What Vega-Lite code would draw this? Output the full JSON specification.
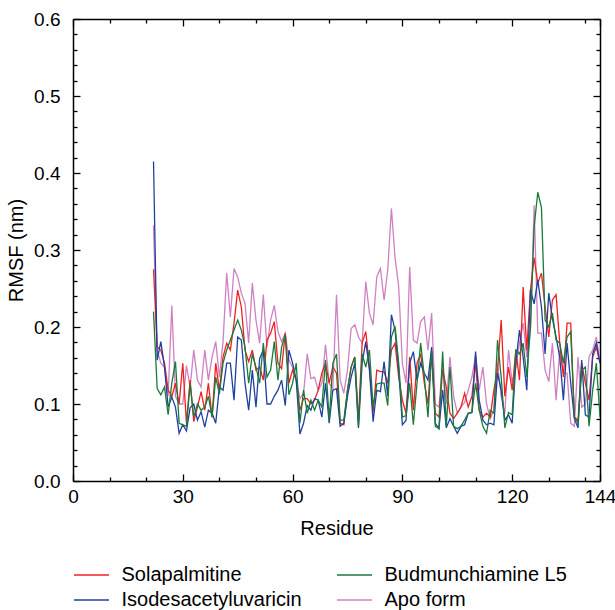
{
"$schema":"https://vega.github.io/schema/vega-lite/v6.json",
"width":527,"height":462,
"autosize":{"type":"none"},
"padding":{"left":73,"top":19,"right":15,"bottom":129},
"config":{"view":{"stroke":null}},
"data":{"values":[
{"r":22,"Solapalmitine":0.275,"Isodesacetyluvaricin":0.415,"Budmunchiamine L5":0.22,"Apo form":0.332},
{"r":23,"Solapalmitine":0.174,"Isodesacetyluvaricin":0.157,"Budmunchiamine L5":0.12,"Apo form":0.17},
{"r":24,"Solapalmitine":0.17,"Isodesacetyluvaricin":0.181,"Budmunchiamine L5":0.112,"Apo form":0.153},
{"r":25,"Solapalmitine":0.153,"Isodesacetyluvaricin":0.148,"Budmunchiamine L5":0.122,"Apo form":0.148},
{"r":26,"Solapalmitine":0.118,"Isodesacetyluvaricin":0.096,"Budmunchiamine L5":0.086,"Apo form":0.11},
{"r":27,"Solapalmitine":0.11,"Isodesacetyluvaricin":0.109,"Budmunchiamine L5":0.127,"Apo form":0.228},
{"r":28,"Solapalmitine":0.127,"Isodesacetyluvaricin":0.096,"Budmunchiamine L5":0.155,"Apo form":0.11},
{"r":29,"Solapalmitine":0.1,"Isodesacetyluvaricin":0.062,"Budmunchiamine L5":0.075,"Apo form":0.1},
{"r":30,"Solapalmitine":0.153,"Isodesacetyluvaricin":0.073,"Budmunchiamine L5":0.073,"Apo form":0.1},
{"r":31,"Solapalmitine":0.075,"Isodesacetyluvaricin":0.065,"Budmunchiamine L5":0.071,"Apo form":0.15},
{"r":32,"Solapalmitine":0.131,"Isodesacetyluvaricin":0.095,"Budmunchiamine L5":0.126,"Apo form":0.122},
{"r":33,"Solapalmitine":0.077,"Isodesacetyluvaricin":0.1,"Budmunchiamine L5":0.083,"Apo form":0.17},
{"r":34,"Solapalmitine":0.096,"Isodesacetyluvaricin":0.079,"Budmunchiamine L5":0.1,"Apo form":0.131},
{"r":35,"Solapalmitine":0.116,"Isodesacetyluvaricin":0.09,"Budmunchiamine L5":0.092,"Apo form":0.122},
{"r":36,"Solapalmitine":0.092,"Isodesacetyluvaricin":0.07,"Budmunchiamine L5":0.096,"Apo form":0.17},
{"r":37,"Solapalmitine":0.127,"Isodesacetyluvaricin":0.092,"Budmunchiamine L5":0.11,"Apo form":0.131},
{"r":38,"Solapalmitine":0.083,"Isodesacetyluvaricin":0.088,"Budmunchiamine L5":0.083,"Apo form":0.161},
{"r":39,"Solapalmitine":0.153,"Isodesacetyluvaricin":0.075,"Budmunchiamine L5":0.135,"Apo form":0.181},
{"r":40,"Solapalmitine":0.118,"Isodesacetyluvaricin":0.122,"Budmunchiamine L5":0.113,"Apo form":0.135},
{"r":41,"Solapalmitine":0.161,"Isodesacetyluvaricin":0.118,"Budmunchiamine L5":0.153,"Apo form":0.181},
{"r":42,"Solapalmitine":0.179,"Isodesacetyluvaricin":0.153,"Budmunchiamine L5":0.17,"Apo form":0.27},
{"r":43,"Solapalmitine":0.17,"Isodesacetyluvaricin":0.153,"Budmunchiamine L5":0.183,"Apo form":0.213},
{"r":44,"Solapalmitine":0.205,"Isodesacetyluvaricin":0.105,"Budmunchiamine L5":0.196,"Apo form":0.276},
{"r":45,"Solapalmitine":0.248,"Isodesacetyluvaricin":0.187,"Budmunchiamine L5":0.209,"Apo form":0.265},
{"r":46,"Solapalmitine":0.226,"Isodesacetyluvaricin":0.183,"Budmunchiamine L5":0.196,"Apo form":0.244},
{"r":47,"Solapalmitine":0.17,"Isodesacetyluvaricin":0.127,"Budmunchiamine L5":0.174,"Apo form":0.231},
{"r":48,"Solapalmitine":0.155,"Isodesacetyluvaricin":0.092,"Budmunchiamine L5":0.127,"Apo form":0.179},
{"r":49,"Solapalmitine":0.17,"Isodesacetyluvaricin":0.144,"Budmunchiamine L5":0.165,"Apo form":0.257},
{"r":50,"Solapalmitine":0.144,"Isodesacetyluvaricin":0.096,"Budmunchiamine L5":0.148,"Apo form":0.209},
{"r":51,"Solapalmitine":0.148,"Isodesacetyluvaricin":0.159,"Budmunchiamine L5":0.127,"Apo form":0.179},
{"r":52,"Solapalmitine":0.131,"Isodesacetyluvaricin":0.17,"Budmunchiamine L5":0.179,"Apo form":0.242},
{"r":53,"Solapalmitine":0.183,"Isodesacetyluvaricin":0.1,"Budmunchiamine L5":0.135,"Apo form":0.174},
{"r":54,"Solapalmitine":0.192,"Isodesacetyluvaricin":0.1,"Budmunchiamine L5":0.144,"Apo form":0.209},
{"r":55,"Solapalmitine":0.207,"Isodesacetyluvaricin":0.11,"Budmunchiamine L5":0.181,"Apo form":0.228},
{"r":56,"Solapalmitine":0.153,"Isodesacetyluvaricin":0.118,"Budmunchiamine L5":0.131,"Apo form":0.194},
{"r":57,"Solapalmitine":0.146,"Isodesacetyluvaricin":0.131,"Budmunchiamine L5":0.174,"Apo form":0.181},
{"r":58,"Solapalmitine":0.192,"Isodesacetyluvaricin":0.098,"Budmunchiamine L5":0.19,"Apo form":0.192},
{"r":59,"Solapalmitine":0.127,"Isodesacetyluvaricin":0.17,"Budmunchiamine L5":0.112,"Apo form":0.157},
{"r":60,"Solapalmitine":0.144,"Isodesacetyluvaricin":0.153,"Budmunchiamine L5":0.127,"Apo form":0.148},
{"r":61,"Solapalmitine":0.131,"Isodesacetyluvaricin":0.131,"Budmunchiamine L5":0.153,"Apo form":0.131},
{"r":62,"Solapalmitine":0.092,"Isodesacetyluvaricin":0.061,"Budmunchiamine L5":0.075,"Apo form":0.107},
{"r":63,"Solapalmitine":0.107,"Isodesacetyluvaricin":0.075,"Budmunchiamine L5":0.118,"Apo form":0.114},
{"r":64,"Solapalmitine":0.107,"Isodesacetyluvaricin":0.098,"Budmunchiamine L5":0.088,"Apo form":0.165},
{"r":65,"Solapalmitine":0.1,"Isodesacetyluvaricin":0.092,"Budmunchiamine L5":0.105,"Apo form":0.133},
{"r":66,"Solapalmitine":0.105,"Isodesacetyluvaricin":0.107,"Budmunchiamine L5":0.092,"Apo form":0.135},
{"r":67,"Solapalmitine":0.118,"Isodesacetyluvaricin":0.105,"Budmunchiamine L5":0.105,"Apo form":0.118},
{"r":68,"Solapalmitine":0.14,"Isodesacetyluvaricin":0.083,"Budmunchiamine L5":0.096,"Apo form":0.127},
{"r":69,"Solapalmitine":0.153,"Isodesacetyluvaricin":0.127,"Budmunchiamine L5":0.157,"Apo form":0.177},
{"r":70,"Solapalmitine":0.127,"Isodesacetyluvaricin":0.075,"Budmunchiamine L5":0.079,"Apo form":0.127},
{"r":71,"Solapalmitine":0.148,"Isodesacetyluvaricin":0.118,"Budmunchiamine L5":0.153,"Apo form":0.12},
{"r":72,"Solapalmitine":0.14,"Isodesacetyluvaricin":0.12,"Budmunchiamine L5":0.165,"Apo form":0.242},
{"r":73,"Solapalmitine":0.075,"Isodesacetyluvaricin":0.071,"Budmunchiamine L5":0.079,"Apo form":0.131},
{"r":74,"Solapalmitine":0.073,"Isodesacetyluvaricin":0.075,"Budmunchiamine L5":0.079,"Apo form":0.114},
{"r":75,"Solapalmitine":0.118,"Isodesacetyluvaricin":0.11,"Budmunchiamine L5":0.118,"Apo form":0.144},
{"r":76,"Solapalmitine":0.148,"Isodesacetyluvaricin":0.135,"Budmunchiamine L5":0.148,"Apo form":0.198},
{"r":77,"Solapalmitine":0.161,"Isodesacetyluvaricin":0.153,"Budmunchiamine L5":0.161,"Apo form":0.203},
{"r":78,"Solapalmitine":0.079,"Isodesacetyluvaricin":0.069,"Budmunchiamine L5":0.071,"Apo form":0.187},
{"r":79,"Solapalmitine":0.179,"Isodesacetyluvaricin":0.153,"Budmunchiamine L5":0.165,"Apo form":0.179},
{"r":80,"Solapalmitine":0.194,"Isodesacetyluvaricin":0.181,"Budmunchiamine L5":0.148,"Apo form":0.259},
{"r":81,"Solapalmitine":0.148,"Isodesacetyluvaricin":0.144,"Budmunchiamine L5":0.17,"Apo form":0.218},
{"r":82,"Solapalmitine":0.088,"Isodesacetyluvaricin":0.077,"Budmunchiamine L5":0.096,"Apo form":0.203},
{"r":83,"Solapalmitine":0.144,"Isodesacetyluvaricin":0.118,"Budmunchiamine L5":0.126,"Apo form":0.265},
{"r":84,"Solapalmitine":0.142,"Isodesacetyluvaricin":0.116,"Budmunchiamine L5":0.127,"Apo form":0.276},
{"r":85,"Solapalmitine":0.142,"Isodesacetyluvaricin":0.155,"Budmunchiamine L5":0.127,"Apo form":0.235},
{"r":86,"Solapalmitine":0.127,"Isodesacetyluvaricin":0.11,"Budmunchiamine L5":0.098,"Apo form":0.274},
{"r":87,"Solapalmitine":0.17,"Isodesacetyluvaricin":0.216,"Budmunchiamine L5":0.187,"Apo form":0.354},
{"r":88,"Solapalmitine":0.179,"Isodesacetyluvaricin":0.196,"Budmunchiamine L5":0.201,"Apo form":0.29},
{"r":89,"Solapalmitine":0.135,"Isodesacetyluvaricin":0.144,"Budmunchiamine L5":0.153,"Apo form":0.252},
{"r":90,"Solapalmitine":0.105,"Isodesacetyluvaricin":0.073,"Budmunchiamine L5":0.083,"Apo form":0.153},
{"r":91,"Solapalmitine":0.088,"Isodesacetyluvaricin":0.079,"Budmunchiamine L5":0.085,"Apo form":0.127},
{"r":92,"Solapalmitine":0.161,"Isodesacetyluvaricin":0.153,"Budmunchiamine L5":0.127,"Apo form":0.278},
{"r":93,"Solapalmitine":0.092,"Isodesacetyluvaricin":0.168,"Budmunchiamine L5":0.073,"Apo form":0.183},
{"r":94,"Solapalmitine":0.153,"Isodesacetyluvaricin":0.131,"Budmunchiamine L5":0.127,"Apo form":0.179},
{"r":95,"Solapalmitine":0.165,"Isodesacetyluvaricin":0.153,"Budmunchiamine L5":0.179,"Apo form":0.207},
{"r":96,"Solapalmitine":0.127,"Isodesacetyluvaricin":0.14,"Budmunchiamine L5":0.135,"Apo form":0.213},
{"r":97,"Solapalmitine":0.1,"Isodesacetyluvaricin":0.131,"Budmunchiamine L5":0.083,"Apo form":0.17},
{"r":98,"Solapalmitine":0.17,"Isodesacetyluvaricin":0.174,"Budmunchiamine L5":0.168,"Apo form":0.218},
{"r":99,"Solapalmitine":0.088,"Isodesacetyluvaricin":0.075,"Budmunchiamine L5":0.071,"Apo form":0.1},
{"r":100,"Solapalmitine":0.083,"Isodesacetyluvaricin":0.068,"Budmunchiamine L5":0.068,"Apo form":0.096},
{"r":101,"Solapalmitine":0.144,"Isodesacetyluvaricin":0.118,"Budmunchiamine L5":0.168,"Apo form":0.153},
{"r":102,"Solapalmitine":0.122,"Isodesacetyluvaricin":0.069,"Budmunchiamine L5":0.071,"Apo form":0.1},
{"r":103,"Solapalmitine":0.088,"Isodesacetyluvaricin":0.081,"Budmunchiamine L5":0.148,"Apo form":0.161},
{"r":104,"Solapalmitine":0.081,"Isodesacetyluvaricin":0.071,"Budmunchiamine L5":0.071,"Apo form":0.11},
{"r":105,"Solapalmitine":0.088,"Isodesacetyluvaricin":0.062,"Budmunchiamine L5":0.068,"Apo form":0.088},
{"r":106,"Solapalmitine":0.096,"Isodesacetyluvaricin":0.071,"Budmunchiamine L5":0.071,"Apo form":0.096},
{"r":107,"Solapalmitine":0.114,"Isodesacetyluvaricin":0.073,"Budmunchiamine L5":0.079,"Apo form":0.102},
{"r":108,"Solapalmitine":0.096,"Isodesacetyluvaricin":0.088,"Budmunchiamine L5":0.088,"Apo form":0.118},
{"r":109,"Solapalmitine":0.11,"Isodesacetyluvaricin":0.089,"Budmunchiamine L5":0.089,"Apo form":0.135},
{"r":110,"Solapalmitine":0.153,"Isodesacetyluvaricin":0.168,"Budmunchiamine L5":0.127,"Apo form":0.163},
{"r":111,"Solapalmitine":0.092,"Isodesacetyluvaricin":0.105,"Budmunchiamine L5":0.092,"Apo form":0.118},
{"r":112,"Solapalmitine":0.083,"Isodesacetyluvaricin":0.079,"Budmunchiamine L5":0.071,"Apo form":0.148},
{"r":113,"Solapalmitine":0.088,"Isodesacetyluvaricin":0.073,"Budmunchiamine L5":0.062,"Apo form":0.1},
{"r":114,"Solapalmitine":0.083,"Isodesacetyluvaricin":0.075,"Budmunchiamine L5":0.092,"Apo form":0.081},
{"r":115,"Solapalmitine":0.118,"Isodesacetyluvaricin":0.073,"Budmunchiamine L5":0.088,"Apo form":0.092},
{"r":116,"Solapalmitine":0.144,"Isodesacetyluvaricin":0.14,"Budmunchiamine L5":0.183,"Apo form":0.153},
{"r":117,"Solapalmitine":0.209,"Isodesacetyluvaricin":0.118,"Budmunchiamine L5":0.135,"Apo form":0.11},
{"r":118,"Solapalmitine":0.11,"Isodesacetyluvaricin":0.079,"Budmunchiamine L5":0.069,"Apo form":0.088},
{"r":119,"Solapalmitine":0.148,"Isodesacetyluvaricin":0.086,"Budmunchiamine L5":0.089,"Apo form":0.17},
{"r":120,"Solapalmitine":0.118,"Isodesacetyluvaricin":0.075,"Budmunchiamine L5":0.086,"Apo form":0.127},
{"r":121,"Solapalmitine":0.17,"Isodesacetyluvaricin":0.153,"Budmunchiamine L5":0.17,"Apo form":0.148},
{"r":122,"Solapalmitine":0.131,"Isodesacetyluvaricin":0.196,"Budmunchiamine L5":0.165,"Apo form":0.179},
{"r":123,"Solapalmitine":0.252,"Isodesacetyluvaricin":0.161,"Budmunchiamine L5":0.179,"Apo form":0.205},
{"r":124,"Solapalmitine":0.17,"Isodesacetyluvaricin":0.118,"Budmunchiamine L5":0.135,"Apo form":0.161},
{"r":125,"Solapalmitine":0.248,"Isodesacetyluvaricin":0.248,"Budmunchiamine L5":0.2,"Apo form":0.196},
{"r":126,"Solapalmitine":0.29,"Isodesacetyluvaricin":0.23,"Budmunchiamine L5":0.33,"Apo form":0.358},
{"r":127,"Solapalmitine":0.257,"Isodesacetyluvaricin":0.261,"Budmunchiamine L5":0.375,"Apo form":0.192},
{"r":128,"Solapalmitine":0.27,"Isodesacetyluvaricin":0.226,"Budmunchiamine L5":0.355,"Apo form":0.192},
{"r":129,"Solapalmitine":0.226,"Isodesacetyluvaricin":0.165,"Budmunchiamine L5":0.209,"Apo form":0.144},
{"r":130,"Solapalmitine":0.187,"Isodesacetyluvaricin":0.244,"Budmunchiamine L5":0.2,"Apo form":0.129},
{"r":131,"Solapalmitine":0.235,"Isodesacetyluvaricin":0.211,"Budmunchiamine L5":0.218,"Apo form":0.179},
{"r":132,"Solapalmitine":0.242,"Isodesacetyluvaricin":0.187,"Budmunchiamine L5":0.183,"Apo form":0.105},
{"r":133,"Solapalmitine":0.179,"Isodesacetyluvaricin":0.161,"Budmunchiamine L5":0.179,"Apo form":0.17},
{"r":134,"Solapalmitine":0.135,"Isodesacetyluvaricin":0.105,"Budmunchiamine L5":0.153,"Apo form":0.14},
{"r":135,"Solapalmitine":0.205,"Isodesacetyluvaricin":0.179,"Budmunchiamine L5":0.187,"Apo form":0.14},
{"r":136,"Solapalmitine":0.205,"Isodesacetyluvaricin":0.127,"Budmunchiamine L5":0.194,"Apo form":0.075},
{"r":137,"Solapalmitine":0.083,"Isodesacetyluvaricin":0.081,"Budmunchiamine L5":0.083,"Apo form":0.071},
{"r":138,"Solapalmitine":0.079,"Isodesacetyluvaricin":0.069,"Budmunchiamine L5":0.075,"Apo form":0.161},
{"r":139,"Solapalmitine":0.153,"Isodesacetyluvaricin":0.157,"Budmunchiamine L5":0.144,"Apo form":0.096},
{"r":140,"Solapalmitine":0.127,"Isodesacetyluvaricin":0.086,"Budmunchiamine L5":0.148,"Apo form":0.1},
{"r":141,"Solapalmitine":0.105,"Isodesacetyluvaricin":0.083,"Budmunchiamine L5":0.071,"Apo form":0.161},
{"r":142,"Solapalmitine":0.161,"Isodesacetyluvaricin":0.165,"Budmunchiamine L5":0.118,"Apo form":0.17},
{"r":143,"Solapalmitine":0.174,"Isodesacetyluvaricin":0.179,"Budmunchiamine L5":0.153,"Apo form":0.187},
{"r":144,"Solapalmitine":0.153,"Isodesacetyluvaricin":0.153,"Budmunchiamine L5":0.083,"Apo form":0.153}
]},
"transform":[{"fold":["Apo form","Solapalmitine","Isodesacetyluvaricin","Budmunchiamine L5"],"as":["series","rmsf"]}],
"layer":[
{"mark":{"type":"line","strokeWidth":1.3,"clip":true},
 "encoding":{
  "x":{"field":"r","type":"quantitative","scale":{"domain":[0,144],"nice":false,"zero":false},
   "axis":{"orient":"bottom","values":[0,10,20,30,40,50,60,70,80,90,100,110,120,130,140,144],
    "labelExpr":"(datum.value % 30 == 0 || datum.value == 144) ? datum.label : ''",
    "tickSize":{"condition":{"test":"datum.value % 30 == 0 || datum.value == 144","value":-7},"value":-4},
    "grid":false,"title":"Residue","domainColor":"#000000","domainWidth":1.5,"tickColor":"#000000","tickWidth":1.3,
    "labelColor":"#000000","labelFontSize":19,"labelPadding":13,"labelOverlap":false,"labelFlush":false,"labelBound":false,
    "titleColor":"#000000","titleFontSize":20,"titleFontWeight":"normal","titlePadding":9}},
  "y":{"field":"rmsf","type":"quantitative","scale":{"domain":[0,0.6],"nice":false},
   "axis":{"orient":"left","values":[0,0.02,0.04,0.06,0.08,0.1,0.12,0.14,0.16,0.18,0.2,0.22,0.24,0.26,0.28,0.3,0.32,0.34,0.36,0.38,0.4,0.42,0.44,0.46,0.48,0.5,0.52,0.54,0.56,0.58,0.6],
    "labelExpr":"round(datum.value*100) % 10 == 0 ? format(datum.value, '.1f') : ''",
    "tickSize":{"condition":{"test":"round(datum.value*100) % 10 == 0","value":-7},"value":-4},
    "grid":false,"title":"RMSF (nm)","domainColor":"#000000","domainWidth":1.5,"tickColor":"#000000","tickWidth":1.3,
    "labelColor":"#000000","labelFontSize":19,"labelPadding":20,"labelOverlap":false,"labelFlush":false,"labelBound":false,
    "titleColor":"#000000","titleFontSize":20,"titleFontWeight":"normal","titlePadding":7}},
  "color":{"field":"series","type":"nominal",
   "scale":{"domain":["Solapalmitine","Isodesacetyluvaricin","Budmunchiamine L5","Apo form"],"range":["#f02020","#2040a0","#1a7a3a","#d080c4"]},
   "legend":{"orient":"none","legendX":8.5,"legendY":546,"columns":2,"title":null,"symbolType":"M-2.5,0H2.5","symbolSize":196,"symbolStrokeWidth":1.5,
    "labelFontSize":20,"labelLimit":400,"labelColor":"#000000","labelOffset":20,"columnPadding":31,"rowPadding":5}}
 }},
{"mark":{"type":"line","opacity":0},
 "encoding":{
  "x":{"field":"r","type":"quantitative","scale":{"domain":[0,144],"nice":false,"zero":false},
   "axis":{"orient":"top","values":[0,10,20,30,40,50,60,70,80,90,100,110,120,130,140,144],"labels":false,"title":null,"grid":false,
    "tickSize":{"condition":{"test":"datum.value % 30 == 0 || datum.value == 144","value":-7},"value":-4},
    "domainColor":"#000000","domainWidth":1.5,"tickColor":"#000000","tickWidth":1.3}},
  "y":{"field":"rmsf","type":"quantitative","scale":{"domain":[0,0.6],"nice":false},
   "axis":{"orient":"right","values":[0,0.02,0.04,0.06,0.08,0.1,0.12,0.14,0.16,0.18,0.2,0.22,0.24,0.26,0.28,0.3,0.32,0.34,0.36,0.38,0.4,0.42,0.44,0.46,0.48,0.5,0.52,0.54,0.56,0.58,0.6],"labels":false,"title":null,"grid":false,
    "tickSize":{"condition":{"test":"round(datum.value*100) % 10 == 0","value":-7},"value":-4},
    "domainColor":"#000000","domainWidth":1.5,"tickColor":"#000000","tickWidth":1.3}},
  "detail":{"field":"series"}
 }}
],
"resolve":{"axis":{"x":"independent","y":"independent"}}
}
